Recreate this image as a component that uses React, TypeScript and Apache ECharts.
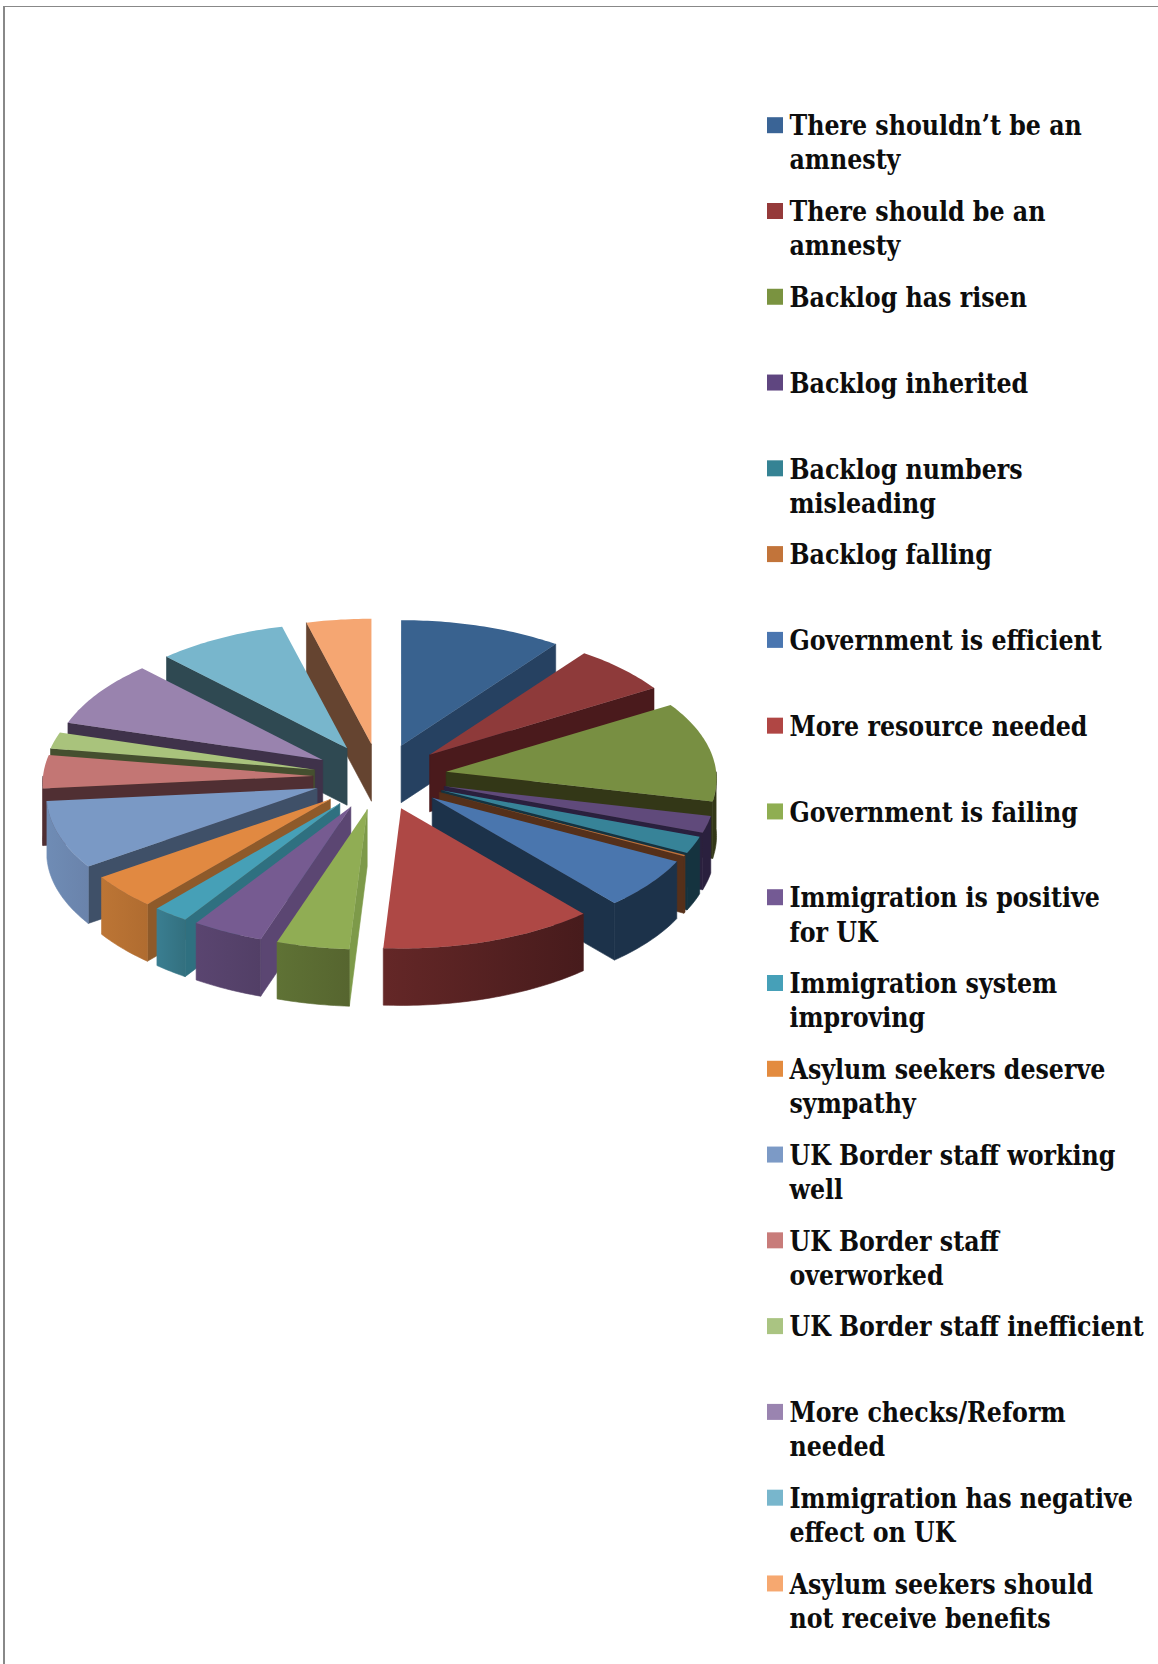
import React, { useEffect, useRef } from "react";
import * as echarts from "echarts";

// Survey themes, clockwise from twelve o'clock.
const categories = [
  "There shouldn’t be an\namnesty",
  "There should be an\namnesty",
  "Backlog has risen",
  "Backlog inherited",
  "Backlog numbers\nmisleading",
  "Backlog falling",
  "Government is efficient",
  "More resource needed",
  "Government is failing",
  "Immigration is positive\nfor UK",
  "Immigration system\nimproving",
  "Asylum seekers deserve\nsympathy",
  "UK Border staff working\nwell",
  "UK Border staff\noverworked",
  "UK Border staff inefficient",
  "More checks/Reform\nneeded",
  "Immigration has negative\neffect on UK",
  "Asylum seekers should\nnot receive benefits",
];
const shares = [10, 6, 12, 2, 2, 0.15, 5.9, 11.95, 4.05, 4, 2, 4, 8, 4, 2, 8, 8, 4];

const topColors = [
  "#39628F", "#8E3A3A", "#788F42", "#604A7B", "#378398", "#C0703A",
  "#4A76AE", "#AE4845", "#90AD54", "#765B91", "#46A0B7", "#E18941",
  "#7A99C5", "#C37674", "#A9C37C", "#9983AE", "#78B6CC", "#F5A672",
];
const swatchColors = [
  "#3A6496", "#953A3A", "#7A9340", "#5F4680", "#358394", "#C2743A",
  "#4A76B0", "#B04644", "#8FAE52", "#745A94", "#46A0B8", "#E38B3F",
  "#7C9AC6", "#C87C7A", "#AAC482", "#9A84B0", "#78B6CC", "#F6A870",
];
const wallColors = [
  "#264161", "#4A1A1C", "#333717", "#2A203E", "#15333F", "#55301A",
  "#1C324A", "#491C1E", "#7D9A49", "#5B4672", "#2F7080", "#8E5A2A",
  "#3F5068", "#502F33", "#454F2F", "#3F324A", "#2F4952", "#654430",
];
const rimColors = [
  ["#264161", "#264161"], ["#4A1A1C", "#4A1A1C"], ["#333717", "#333717"],
  ["#2A203E", "#2A203E"], ["#15333F", "#15333F"], ["#55301A", "#55301A"],
  ["#1C324A", "#1C324A"], ["#642727", "#471B1C"], ["#5F7235", "#56652F"],
  ["#5A4570", "#523F66"], ["#3A7E91", "#33707F"], ["#BC7535", "#B06C30"],
  ["#6F8CB5", "#6A83AB"], ["#502F33", "#502F33"], ["#454F2F", "#454F2F"],
  ["#3F324A", "#3F324A"], ["#2F4952", "#2F4952"], ["#654430", "#654430"],
];

// Pie projection, in page pixels.
const centre = { x: 380, y: 777 };
const explode = { x: 67, y: 33 };
const radius = { x: 270, y: 132.4 };
const perspective = 0.055;
const depth = 57;
const legendLayout = { swatchX: 767, swatchSize: 16, textX: 789.5, firstRow: 125.2, step: 85.78 };

const RAD = Math.PI / 180;
const total = shares.reduce((a, b) => a + b, 0);
const spans = shares.map((v, i) => {
  const before = shares.slice(0, i).reduce((a, b) => a + b, 0);
  return { start: (before / total) * 360, end: ((before + v) / total) * 360 };
});

// Rim point of a slice at angle deg, relative to its displaced apex.
function rimPoint(apex: number[], deg: number) {
  const sx = Math.sin(deg * RAD);
  const cy = Math.cos(deg * RAD);
  const s = 1 / (1 + perspective * cy);
  return [apex[0] + radius.x * sx * s, apex[1] - radius.y * cy * s];
}

function sideOf(a: number[], b: number[], p: number[]) {
  return (b[0] - a[0]) * (p[1] - a[1]) - (b[1] - a[1]) * (p[0] - a[0]);
}

function lowered(p: number[]) {
  return [p[0], p[1] + depth];
}

function renderSlice(_params: any, api: any) {
  const idx = api.value(0);
  const { start, end } = spans[idx];
  const mid = (start + end) / 2;
  const apex = [
    centre.x + explode.x * Math.sin(mid * RAD),
    centre.y - explode.y * Math.cos(mid * RAD),
  ];
  const arc: number[][] = [];
  const steps = Math.max(2, Math.ceil(end - start));
  for (let k = 0; k <= steps; k++) arc.push(rimPoint(apex, start + ((end - start) * k) / steps));
  const inner = rimPoint(apex, mid);
  const children: any[] = [];

  // Radial walls: only the ones whose extrusion falls outside the top face.
  [arc[0], arc[arc.length - 1]].forEach((edge) => {
    const interiorSide = sideOf(apex, edge, inner);
    const extrudedSide = sideOf(apex, edge, lowered(apex));
    if (interiorSide * extrudedSide < 0) {
      children.push({
        type: "polygon",
        shape: { points: [apex, edge, lowered(edge), lowered(apex)] },
        style: { fill: wallColors[idx], stroke: wallColors[idx], lineWidth: 0.6 },
      });
    }
  });

  // Outer rim, on the half of the circle that faces the viewer.
  const from = Math.max(start, 90);
  const to = Math.min(end, 270);
  if (to > from) {
    const top: number[][] = [];
    const n = Math.max(2, Math.ceil(to - from));
    for (let k = 0; k <= n; k++) top.push(rimPoint(apex, from + ((to - from) * k) / n));
    const bottom = top.map(lowered).reverse();
    const [left, right] = rimColors[idx];
    const shade = new echarts.graphic.LinearGradient(0, 0, 1, 0, [
      { offset: 0, color: left },
      { offset: 1, color: right },
    ]);
    children.push({
      type: "polygon",
      shape: { points: top.concat(bottom) },
      style: { fill: shade, stroke: shade, lineWidth: 0.6 },
    });
  }

  children.push({
    type: "polygon",
    shape: { points: [apex, ...arc] },
    style: { fill: topColors[idx] },
  });
  return { type: "group", children };
}

export default function App() {
  const ref = useRef<HTMLDivElement>(null);
  useEffect(() => {
    document.body.style.margin = "0";
    const chart = echarts.init(ref.current, undefined, { renderer: "svg" });

    // Back slices are painted first so the nearer ones overlap their walls.
    const order = shares
      .map((_, i) => i)
      .sort((a, b) => {
        const ma = ((spans[a].start + spans[a].end) / 2) * RAD;
        const mb = ((spans[b].start + spans[b].end) / 2) * RAD;
        return Math.cos(mb) - Math.cos(ma);
      });

    const legend: any[] = [];
    categories.forEach((name, i) => {
      const y = legendLayout.firstRow + legendLayout.step * i;
      legend.push({
        type: "rect",
        shape: {
          x: legendLayout.swatchX,
          y: y - legendLayout.swatchSize / 2,
          width: legendLayout.swatchSize,
          height: legendLayout.swatchSize,
        },
        style: { fill: swatchColors[i] },
      });
      legend.push({
        type: "text",
        x: legendLayout.textX,
        y: y - 17,
        scaleX: 0.942,
        style: {
          text: name,
          fill: "#0d0d0d",
          font: 'bold 28px "DejaVu Serif Condensed", "DejaVu Serif", serif',
          lineHeight: 34,
          textVerticalAlign: "top",
        },
      });
    });

    chart.setOption({
      animation: false,
      backgroundColor: "#ffffff",
      graphic: [
        { type: "rect", shape: { x: 3, y: 6, width: 2, height: 1658 }, style: { fill: "#888888" } },
        { type: "rect", shape: { x: 3, y: 6, width: 1155, height: 1 }, style: { fill: "#888888" } },
        ...legend,
      ],
      series: [
        {
          type: "custom",
          coordinateSystem: "none",
          silent: true,
          renderItem: renderSlice,
          data: order.map((i) => ({ name: categories[i].replace("\n", " "), value: [i, shares[i]] })),
        },
      ],
    });
    return () => chart.dispose();
  }, []);
  return <div ref={ref} style={{ position: "absolute", left: 0, top: 0, width: 1158, height: 1664 }} />;
}
